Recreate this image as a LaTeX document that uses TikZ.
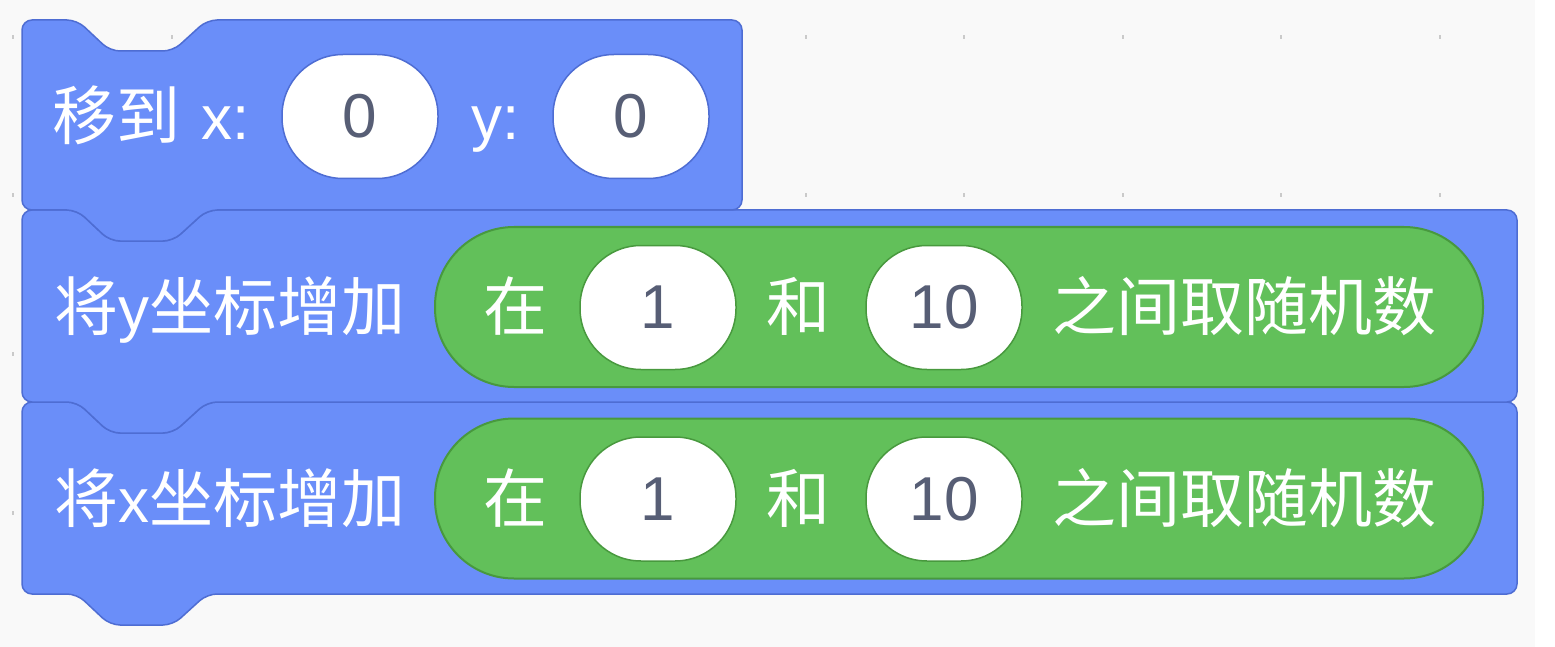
\documentclass[tikz,border=0pt]{standalone}
\usepackage{fontspec}
\setmainfont{Liberation Sans}
\newfontfamily\cjkfam{Noto Sans CJK SC}
\newcommand{\cjkt}[1]{{\cjkfam\fontsize{64}{70}\selectfont #1}}
\definecolor{bgc}{HTML}{F9F9F9}
\definecolor{dotc}{HTML}{CACACA}
\definecolor{blockblue}{HTML}{6A8EF9}
\definecolor{blockline}{HTML}{4E6DD3}
\definecolor{repgreen}{HTML}{62C05A}
\definecolor{repline}{HTML}{48993E}
\definecolor{numtext}{HTML}{575E75}
\newcommand{\sblock}[4]{%
  \path[blk] (#1,{#2+#4/2}) -- (#1,#2) -- ({#1+55},#2) -- ({#1+88},{#2+31}) -- ({#1+151},{#2+31}) -- ({#1+185},#2)
    -- ({#1+#3},#2) -- ({#1+#3},{#2+#4}) -- ({#1+185},{#2+#4}) -- ({#1+151},{#2+#4+31}) -- ({#1+88},{#2+#4+31})
    -- ({#1+55},{#2+#4}) -- (#1,{#2+#4}) -- cycle;}
\tikzset{
  blk/.style={fill=blockblue, draw=blockline, line width=1.5pt, rounded corners=10pt, line join=round},
  rep/.style={fill=repgreen, draw=repline, line width=2pt, rounded corners=79pt, minimum width=1048pt, minimum height=160pt, inner sep=0pt},
  numin/.style={fill=white, line width=1.5pt, rounded corners=61pt, minimum width=156pt, minimum height=124pt, inner sep=0pt, text=numtext, font=\fontsize{62}{70}\selectfont},
  numblue/.style={numin, draw=blockline},
  numgreen/.style={numin, draw=repline},
  lbl/.style={anchor=base west, inner sep=0pt, text=white, font=\fontsize{62}{70}\selectfont}
}
\begin{document}
\begin{tikzpicture}[x=1pt,y=-1pt]
\useasboundingbox (0,0) rectangle (1555,647);
\fill[white] (0,0) rectangle (1555,647);
\fill[bgc] (0,0) rectangle (1535,647);
% dot grid
\foreach \i in {0,...,9} {
  \foreach \j in {0,...,3} {
    \fill[dotc] ({13+158.5*\i-1},{37+158.5*\j-2}) rectangle ({13+158.5*\i+1},{37+158.5*\j+2});
  }
}
% blocks
\sblock{22}{402}{1495}{192}
\sblock{22}{210}{1495}{192}
\sblock{22}{20}{720}{190}
% block 1
\node[lbl] (t1a) at (52,140) {\cjkt{移到}};
\node[lbl] (t1b) at (201,140) {x:};
\node[numblue] (n1x) at (360,116.5) {0};
\node[lbl] (t1c) at (471,140) {y:};
\node[numblue] (n1y) at (631,116.5) {0};
% block 2
\node[lbl] (t2a) at (54,330) {\cjkt{将}y\cjkt{坐标增加}};
\node[rep] (r2) at (959,307) {};
\node[lbl] (t2b) at (483,330) {\cjkt{在}};
\node[numgreen] (n2a) at (658,307.5) {1};
\node[lbl] (t2c) at (766,330) {\cjkt{和}};
\node[numgreen] (n2b) at (944,307.5) {10};
\node[lbl] (t2d) at (1052,330) {\cjkt{之间取随机数}};
% block 3
\node[lbl] (t3a) at (54,522) {\cjkt{将}x\cjkt{坐标增加}};
\node[rep] (r3) at (959,498.5) {};
\node[lbl] (t3b) at (483,522) {\cjkt{在}};
\node[numgreen] (n3a) at (658,499) {1};
\node[lbl] (t3c) at (766,522) {\cjkt{和}};
\node[numgreen] (n3b) at (944,499) {10};
\node[lbl] (t3d) at (1052,522) {\cjkt{之间取随机数}};
\end{tikzpicture}
\end{document}
